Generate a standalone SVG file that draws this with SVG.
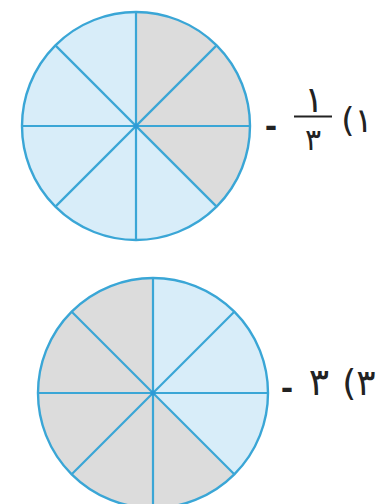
<svg xmlns="http://www.w3.org/2000/svg" width="390" height="504" viewBox="0 0 390 504">
<style>
.base{fill:#d8edf9}
.shade{fill:#dcdcdc}
.ln{stroke:#3aa6d6;stroke-width:2.2;fill:none}
.rim{stroke:#3aa6d6;stroke-width:2.4;fill:none}
.t{font-family:"DejaVu Sans",sans-serif;fill:#222}
.d{font-family:"DejaVu Sans",sans-serif;fill:#222;font-weight:bold}
</style>
<rect width="390" height="504" fill="#ffffff"/>
<g id="circle1">
<circle class="base" cx="136" cy="126" r="114"/>
<path class="shade" d="M136,126 L136,12 A114,114 0 0 1 216.6,206.6 Z"/>
<g class="ln">
<line x1="136" y1="12" x2="136" y2="240"/>
<line x1="22" y1="126" x2="250" y2="126"/>
<line x1="55.4" y1="45.4" x2="216.6" y2="206.6"/>
<line x1="216.6" y1="45.4" x2="55.4" y2="206.6"/>
</g>
<circle class="rim" cx="136" cy="126" r="114"/>
<circle cx="136" cy="126" r="2.5" fill="#2e9ad6"/>
</g>
<g id="label1">
<text class="d" x="271" y="137" font-size="30" text-anchor="middle">-</text>
<text class="t" x="314" y="112" font-size="36" text-anchor="middle">١</text>
<line x1="294" y1="116.5" x2="332" y2="116.5" stroke="#222" stroke-width="2"/>
<text class="t" x="313" y="150" font-size="30" text-anchor="middle">٣</text>
<text class="t" x="357" y="132" font-size="34" text-anchor="middle">(١</text>
</g>
<g id="circle2">
<circle class="base" cx="153" cy="393" r="115"/>
<path class="shade" d="M153,393 L234.3,474.3 A115,115 0 1 1 153,278 Z"/>
<g class="ln">
<line x1="153" y1="278" x2="153" y2="508"/>
<line x1="38" y1="393" x2="268" y2="393"/>
<line x1="71.7" y1="311.7" x2="234.3" y2="474.3"/>
<line x1="234.3" y1="311.7" x2="71.7" y2="474.3"/>
</g>
<circle class="rim" cx="153" cy="393" r="115"/>
<circle cx="153" cy="393" r="2.5" fill="#2e9ad6"/>
</g>
<g id="label2">
<text class="d" x="287" y="399" font-size="30" text-anchor="middle">-</text>
<text class="t" x="319" y="395" font-size="38" text-anchor="middle">٣</text>
<text class="t" x="359" y="395" font-size="36" text-anchor="middle">(٣</text>
</g>
</svg>
